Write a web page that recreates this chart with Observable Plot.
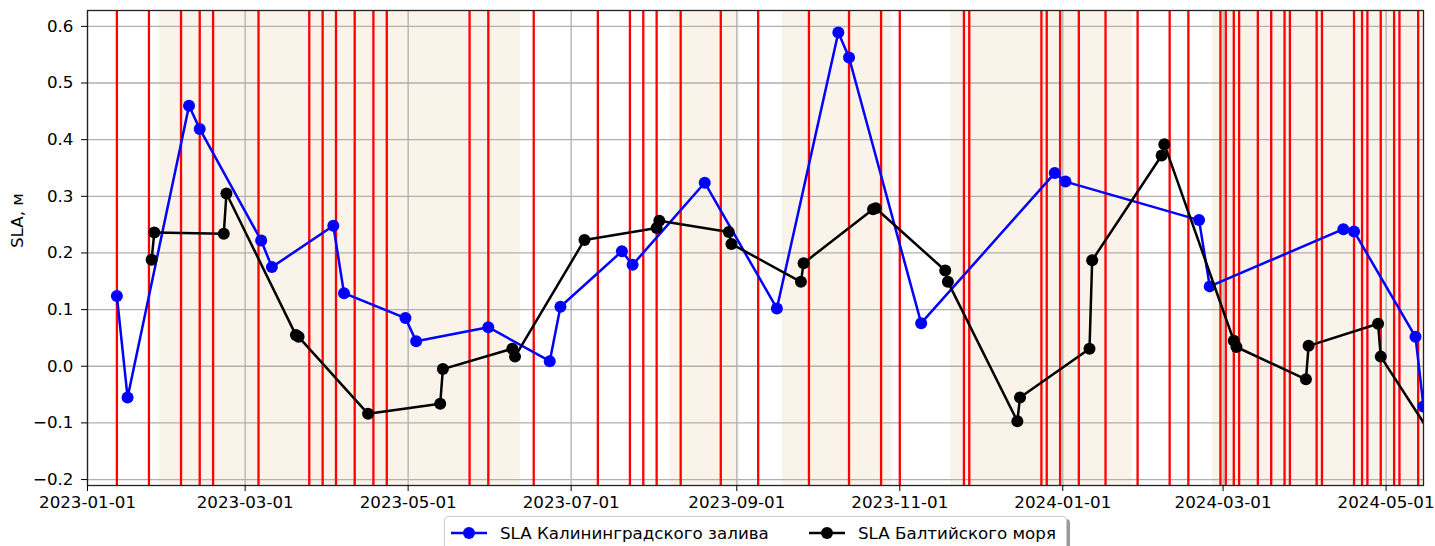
<!DOCTYPE html>
<html>
<head>
<meta charset="utf-8">
<script src="https://cdn.jsdelivr.net/npm/d3@7"></script>
<script src="https://cdn.jsdelivr.net/npm/@observablehq/plot@0.6"></script>
<style>
  html, body { margin: 0; padding: 0; background: #fff; }
  #wrap { position: relative; width: 1435px; height: 546px; overflow: hidden; font-family: "DejaVu Sans", sans-serif; }
  #legend { position: absolute; left: 444px; top: 516px; width: 621px; height: 44px; border: 1px solid #cccccc; border-radius: 4px; background: #fff; box-shadow: 3px 3px 0 #9a9a9a; }
  .item { position: absolute; top: 0; height: 30px; display: flex; align-items: center; font-size: 16.7px; color: #000; white-space: nowrap; }
  .item svg { margin-right: 12px; }
</style>
</head>
<body>
<div id="wrap">
  <div id="chart"></div>
  <div id="legend"></div>
</div>
<script>
// Series: SLA Калининградского залива (blue)
const kalDates = ["2023-01-12","2023-01-16","2023-02-08","2023-02-12","2023-03-07","2023-03-11","2023-04-03","2023-04-07","2023-04-30","2023-05-04","2023-05-31","2023-06-23","2023-06-27","2023-07-20","2023-07-24","2023-08-20","2023-09-16","2023-10-09","2023-10-13","2023-11-09","2023-12-29","2024-01-02","2024-02-21","2024-02-25","2024-04-15","2024-04-19","2024-05-12","2024-05-15"];
const kalValues = [0.124,-0.055,0.460,0.419,0.222,0.175,0.248,0.129,0.085,0.044,0.069,0.009,0.105,0.203,0.179,0.324,0.102,0.589,0.545,0.076,0.341,0.326,0.258,0.141,0.242,0.238,0.052,-0.071];

// Series: SLA Балтийского моря (black)
const balDates = ["2023-01-25","2023-01-26","2023-02-21","2023-02-22","2023-03-20","2023-03-21","2023-04-16","2023-05-13","2023-05-14","2023-06-09","2023-06-10","2023-07-06","2023-08-02","2023-08-03","2023-08-29","2023-08-30","2023-09-25","2023-09-26","2023-10-22","2023-10-23","2023-11-18","2023-11-19","2023-12-15","2023-12-16","2024-01-11","2024-01-12","2024-02-07","2024-02-08","2024-03-05","2024-03-06","2024-04-01","2024-04-02","2024-04-28","2024-04-29","2024-05-20"];
const balValues = [0.188,0.236,0.234,0.305,0.055,0.052,-0.084,-0.066,-0.005,0.031,0.017,0.223,0.244,0.257,0.237,0.216,0.149,0.182,0.277,0.279,0.169,0.149,-0.097,-0.055,0.031,0.187,0.372,0.392,0.045,0.034,-0.023,0.036,0.075,0.017,-0.136];

// Event dates (red vertical lines)
const eventDates = ["2023-01-12","2023-01-24","2023-02-05","2023-02-12","2023-02-17","2023-03-06","2023-03-25","2023-03-30","2023-04-04","2023-04-11","2023-04-18","2023-04-23","2023-05-24","2023-05-31","2023-06-17","2023-07-11","2023-07-23","2023-07-28","2023-08-02","2023-08-11","2023-08-26","2023-09-09","2023-09-28","2023-10-13","2023-10-25","2023-11-01","2023-11-25","2023-11-27","2023-12-24","2023-12-26","2023-12-31","2024-01-07","2024-01-17","2024-01-29","2024-02-10","2024-02-17","2024-02-29","2024-03-02","2024-03-05","2024-03-07","2024-03-14","2024-03-19","2024-03-24","2024-03-26","2024-04-05","2024-04-07","2024-04-19","2024-04-22","2024-04-24","2024-04-29","2024-05-04","2024-05-06","2024-05-13"];

// Shaded periods
const spanStart = ["2023-01-28","2023-08-07","2023-09-18","2023-11-20","2024-02-26"];
const spanEnd   = ["2023-06-12","2023-09-02","2023-10-29","2024-01-27","2024-05-20"];

// Axis settings
const xDomain = ["2023-01-01","2024-05-15"];
const yDomain = [-0.2105, 0.628];
const yTicks = [-0.2,-0.1,0.0,0.1,0.2,0.3,0.4,0.5,0.6];

const seriesNames = ["SLA Калининградского залива","SLA Балтийского моря"];
const seriesColors = ["#0000ff","#000000"];

const P = d3.utcParse("%Y-%m-%d");
const kal = kalDates.map((d,i) => ({date: P(d), v: kalValues[i]}));
const bal = balDates.map((d,i) => ({date: P(d), v: balValues[i]}));
const events = eventDates.map(P);
const spans = spanStart.map((d,i) => ({x1: P(d), x2: P(spanEnd[i])}));

const chart = Plot.plot({
  width: 1435,
  height: 512,
  marginLeft: 87,
  marginRight: 12,
  marginTop: 10,
  marginBottom: 27,
  style: {fontFamily: "DejaVu Sans, sans-serif", fontSize: "16.7px", color: "#000", background: "#fff"},
  x: {type: "utc", domain: xDomain.map(P)},
  y: {domain: yDomain},
  marks: [
    Plot.rect(spans, {x1: "x1", x2: "x2", fill: "#faf3e9", clip: true}),
    Plot.gridX({ticks: d3.utcMonth.every(2), stroke: "#b0b0b0", strokeOpacity: 1, strokeWidth: 1.3}),
    Plot.gridY(yTicks, {stroke: "#b0b0b0", strokeOpacity: 1, strokeWidth: 1.3}),
    Plot.ruleX(events, {stroke: "#ff0000", strokeWidth: 2.3, clip: true}),
    Plot.line(kal, {x: "date", y: "v", stroke: seriesColors[0], strokeWidth: 2.5, clip: true}),
    Plot.dot(kal, {x: "date", y: "v", fill: seriesColors[0], r: 6, clip: true}),
    Plot.line(bal, {x: "date", y: "v", stroke: seriesColors[1], strokeWidth: 2.5, clip: true}),
    Plot.dot(bal, {x: "date", y: "v", fill: seriesColors[1], r: 6, clip: true}),
    Plot.frame({stroke: "#222", strokeWidth: 1.3}),
    Plot.axisX({ticks: d3.utcMonth.every(2), tickFormat: d3.utcFormat("%Y-%m-%d"), tickSize: 6, tickPadding: 5, label: null, fontSize: 16.7}),
    Plot.axisY(yTicks, {tickFormat: ".1f", tickSize: 6, tickPadding: 8, label: null, fontSize: 16.7}),
    Plot.text(["SLA, м"], {frameAnchor: "left", dx: -70, rotate: -90, fontSize: 16.7, fill: "#000"})
  ]
});
document.getElementById("chart").appendChild(chart);

// Legend
const legend = document.getElementById("legend");
const itemLeft = [5, 363];
seriesNames.forEach((name, i) => {
  const div = document.createElement("div");
  div.className = "item";
  div.style.left = itemLeft[i] + "px";
  div.style.top = "1px";
  div.innerHTML = `<svg width="38" height="14"><line x1="1" x2="37" y1="7" y2="7" stroke="${seriesColors[i]}" stroke-width="2.5"/><circle cx="19" cy="7" r="6" fill="${seriesColors[i]}"/></svg><span>${name}</span>`;
  legend.appendChild(div);
});
</script>
</body>
</html>
